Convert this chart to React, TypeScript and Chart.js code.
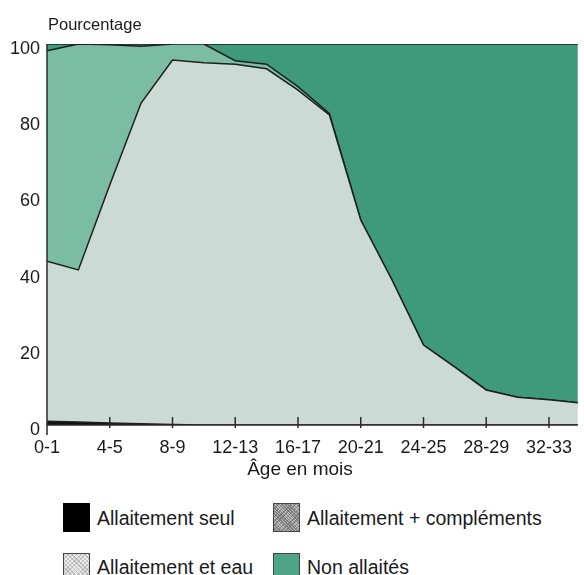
import React, { useEffect, useRef } from "react";
import { Chart, registerables } from "chart.js";

Chart.register(...registerables);

const ageLabels = ["0-1", "2-3", "4-5", "6-7", "8-9", "10-11", "12-13", "14-15", "16-17", "18-19", "20-21", "22-23", "24-25", "26-27", "28-29", "30-31", "32-33", "34-35"];
const allaitementSeul = [1, 0.8, 0.5, 0.3, 0.1, 0, 0, 0, 0, 0, 0, 0, 0, 0, 0, 0, 0, 0];
const allaitementEau = [42, 39.9, 62.5, 84.2, 95.7, 95.1, 94.7, 93.5, 87.9, 81.4, 53.8, 38, 21, 15.2, 9.2, 7.3, 6.6, 5.8];
const allaitementComplements = [55.2, 59.3, 36.8, 14.9, 4.2, 4.9, 0.9, 1.2, 0.9, 0.4, 0, 0, 0, 0, 0, 0, 0, 0];
const nonAllaites = [1.8, 0, 0.2, 0.6, 0, 0, 4.4, 5.3, 11.2, 18.2, 46.2, 62, 79, 84.8, 90.8, 92.7, 93.4, 94.2];
const yTicks = [0, 20, 40, 60, 80, 100];

const FONT = '"Liberation Sans", Arial, sans-serif';

const toPoints = (arr: number[]) => arr.map((v, i) => ({ x: i, y: v }));

const decoPlugin = {
  id: "deco",
  afterDraw(chart: any) {
    const { ctx, chartArea: ca, scales } = chart;
    const x = scales.x;
    ctx.save();
    ctx.strokeStyle = "#2a2a2a";
    ctx.lineWidth = 1.5;
    ctx.beginPath();
    ctx.moveTo(ca.left, ca.top);
    ctx.lineTo(ca.left, ca.bottom + 10);
    ctx.stroke();
    ctx.beginPath();
    ctx.moveTo(ca.left, ca.bottom);
    ctx.lineTo(ca.right, ca.bottom);
    ctx.stroke();
    for (let i = 2; i < ageLabels.length; i += 2) {
      const px = x.getPixelForValue(i);
      if (px > ca.right) break;
      ctx.beginPath();
      ctx.moveTo(px, ca.bottom - 8);
      ctx.lineTo(px, ca.bottom + 3);
      ctx.stroke();
    }
    ctx.fillStyle = "#1a1a1a";
    ctx.textBaseline = "middle";
    ctx.textAlign = "left";
    ctx.font = "16.5px " + FONT;
    ctx.fillText("Pourcentage", ca.left + 1, 25);
    ctx.font = "19px " + FONT;
    ctx.textAlign = "center";
    ctx.fillText("Âge en mois", x.getPixelForValue(8) + 2, 470);
    ctx.restore();
  },
};

export default function App() {
  const ref = useRef<HTMLCanvasElement | null>(null);
  useEffect(() => {
    if (!ref.current) return;
    const common = { pointRadius: 0, borderColor: "#1e1e1e", borderWidth: 1.5, tension: 0 };
    const chart = new Chart(ref.current, {
      type: "line",
      data: {
        datasets: [
          { label: "Allaitement seul", data: toPoints(allaitementSeul), backgroundColor: "#111", fill: "origin", ...common },
          { label: "Allaitement et eau", data: toPoints(allaitementEau), backgroundColor: "#cbdad5", fill: "-1", ...common },
          { label: "Allaitement + compléments", data: toPoints(allaitementComplements), backgroundColor: "#7bbda4", fill: "-1", ...common },
          { label: "Non allaités", data: toPoints(nonAllaites), backgroundColor: "#3f9a7b", fill: "-1", ...common },
        ],
      },
      options: {
        responsive: false,
        animation: false,
        layout: { padding: { top: 44, right: 0, left: 0, bottom: 0 } },
        plugins: { legend: { display: false }, tooltip: { enabled: false } },
        scales: {
          x: {
            type: "linear",
            min: 0,
            max: 16.92,
            grid: { display: false, drawTicks: false },
            border: { display: false },
            afterFit: (s: any) => { s.height = 65; },
            ticks: {
              stepSize: 2,
              includeBounds: false,
              autoSkip: false,
              maxRotation: 0,
              padding: 12,
              color: "#1a1a1a",
              font: { family: FONT, size: 18 },
              callback: (v: any) => (Number.isInteger(v) && v % 2 === 0 && ageLabels[v] ? ageLabels[v] : ""),
            },
          },
          y: {
            stacked: true,
            min: 0,
            max: 100,
            grid: { display: false, drawTicks: false },
            border: { display: false },
            afterFit: (s: any) => { s.width = 47; },
            afterBuildTicks: (s: any) => { s.ticks = yTicks.map((v) => ({ value: v })); },
            ticks: {
              padding: 7,
              labelOffset: 5,
              color: "#1a1a1a",
              font: { family: FONT, size: 18 },
            },
          },
        },
      },
      plugins: [decoPlugin],
    });
    return () => chart.destroy();
  }, []);

  const box = (bg: string): React.CSSProperties => ({
    position: "absolute",
    width: 27,
    height: 29,
    boxSizing: "border-box",
    border: "1.5px solid #444",
    background: bg,
  });
  const text = (left: number, top: number): React.CSSProperties => ({
    position: "absolute",
    left,
    top,
    fontFamily: FONT,
    fontSize: 19.5,
    lineHeight: "24px",
    color: "#1a1a1a",
    whiteSpace: "nowrap",
  });
  const hatch =
    "repeating-linear-gradient(45deg, rgba(90,90,90,0.6) 0 1px, transparent 1px 2px), repeating-linear-gradient(-45deg, rgba(90,90,90,0.5) 0 1px, transparent 1px 3px), #c4c4c4";
  const dots =
    "repeating-linear-gradient(45deg, rgba(150,150,150,0.5) 0 1px, transparent 1px 3px), repeating-linear-gradient(-45deg, rgba(150,150,150,0.4) 0 1px, transparent 1px 3px), #ececec";

  return (
    <div style={{ position: "absolute", left: 0, top: 0, width: 584, height: 575, background: "#fff", overflow: "hidden" }}>
      <canvas ref={ref} width={584} height={490} style={{ position: "absolute", left: 0, top: 0 }} />
      <div style={{ ...box("#000"), left: 63, top: 503, border: "none" }} />
      <div style={text(97, 506)}>Allaitement seul</div>
      <div style={{ ...box(hatch), left: 273, top: 503 }} />
      <div style={text(307, 506)}>Allaitement + compléments</div>
      <div style={{ ...box(dots), left: 63, top: 553 }} />
      <div style={text(97, 555)}>Allaitement et eau</div>
      <div style={{ ...box("#4fa487"), left: 273, top: 553 }} />
      <div style={text(307, 555)}>Non allaités</div>
    </div>
  );
}
